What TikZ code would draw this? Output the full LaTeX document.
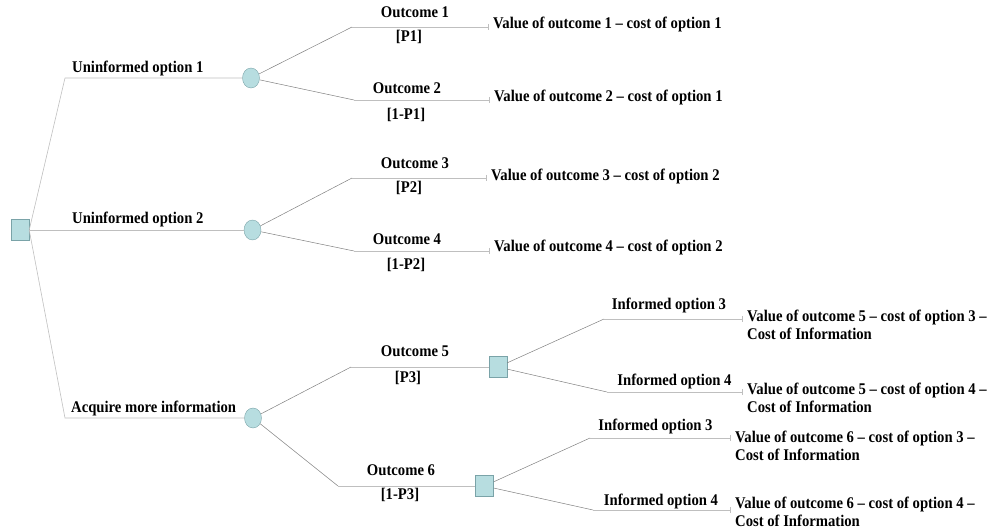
\documentclass[tikz,border=0pt]{standalone}
\usepackage{fontspec}
\setmainfont{Liberation Serif}[FakeStretch=0.9]
\usetikzlibrary{arrows.meta,shapes}
\definecolor{nodefill}{RGB}{183,221,224}
\definecolor{nodeline}{RGB}{122,163,168}
\tikzstyle{decision}=[rectangle,fill=nodefill,draw=nodeline,minimum width=18pt,minimum height=21pt,inner sep=0pt]
\tikzstyle{chance}=[ellipse,fill=nodefill,draw=nodeline,minimum width=17pt,minimum height=20pt,inner sep=0pt]
\tikzstyle{branch} = [draw,black!50,line width=0.5pt]
\tikzstyle{stem} = [draw,black!25,line width=0.6pt]
\tikzstyle{branchtext} = [font=\fontsize{16.3}{18}\selectfont\bfseries,anchor=base,inner sep=0pt]
\tikzstyle{valuetext} = [font=\fontsize{16.3}{18}\selectfont\bfseries,anchor=base west,align=left,inner xsep=4pt,inner ysep=0pt]

\begin{document}
\begin{tikzpicture}[x=1pt,y=-1pt]
    \useasboundingbox (0,0) rectangle (991,529);
    % First we draw the decision and chance nodes
    \node[decision] (R) at (20,230) {};
    \foreach \pos/\name in {{(251,78)/C1}, {(252.5,230)/C2}, {(253,418)/C3}}
        \node[chance] (\name) at \pos {};
    \foreach \pos/\name in {{(498,367)/S5}, {(484.5,486)/S6}}
        \node[decision] (\name) at \pos {};
    % Bend points of the branches
    \path (65,78) coordinate (k1) (65,418) coordinate (k3)
          (352,27) coordinate (b1) (354,100) coordinate (b2)
          (352,178) coordinate (b3) (354,251) coordinate (b4)
          (351,367) coordinate (b5) (338,486) coordinate (b6)
          (604,319) coordinate (d1) (607,392) coordinate (d2)
          (590,438) coordinate (d3) (593,510) coordinate (d4);
    % Pay-offs at the end of each branch (two-line ones sit on their last line)
    \node[valuetext] (v1) at (489,29) {Value of outcome 1 – cost of option 1};
    \node[valuetext] (v2) at (490,102) {Value of outcome 2 – cost of option 1};
    \node[valuetext] (v3) at (487,181) {Value of outcome 3 – cost of option 2};
    \node[valuetext] (v4) at (490,252) {Value of outcome 4 – cost of option 2};
    \node[valuetext] (v5) at (743,340) {Value of outcome 5 – cost of option 3 –\\Cost of Information};
    \node[valuetext] (v6) at (743,413) {Value of outcome 5 – cost of option 4 –\\Cost of Information};
    \node[valuetext] (v7) at (731,460) {Value of outcome 6 – cost of option 3 –\\Cost of Information};
    \node[valuetext] (v8) at (731,526) {Value of outcome 6 – cost of option 4 –\\Cost of Information};

    % Root to the three options
    \path[stem] (R.east) -- (k1) -- (C1);
    \path[stem] (R.east) -- (C2);
    \path[stem] (R.east) -- (k3) -- (C3);
    % Branches ending in a pay-off
    \foreach \source/\bend/\dest in {C1/b1/v1, C1/b2/v2, C2/b3/v3, C2/b4/v4,
                                     S5/d1/v5, S5/d2/v6, S6/d3/v7, S6/d4/v8}
    {
        \path[branch] (\source) -- (\bend);
        \path[stem,-{Bar[width=6pt]}] (\bend) -- (\bend -| \dest.west);
    }
    % Outcomes 5 and 6 lead to a second decision
    \foreach \bend/\dest in {b5/S5, b6/S6}
    {
        \path[branch] (C3) -- (\bend);
        \path[stem] (\bend) -- (\dest);
    }

    % Labels on the branches
    \node[branchtext,anchor=base west] (u1) at (72,73) {Uninformed option 1};
    \node[branchtext,anchor=base west] (u2) at (72,224) {Uninformed option 2};
    \node[branchtext,anchor=base west] (u3) at (71,413) {Acquire more information};
    \foreach \pos/\name/\txt in {{(415,18)/o1/Outcome 1}, {(409,42)/p1/[P1]},
                                 {(407,93.5)/o2/Outcome 2}, {(406,120)/p2/[1-P1]},
                                 {(415,168.5)/o3/Outcome 3}, {(409,193)/p3/[P2]},
                                 {(407,244.5)/o4/Outcome 4}, {(406,270)/p4/[1-P2]},
                                 {(415,357)/o5/Outcome 5}, {(408,383)/p5/[P3]},
                                 {(401,475)/o6/Outcome 6}, {(400,499)/p6/[1-P3]},
                                 {(669,310)/i1/Informed option 3}, {(674.5,385)/i2/Informed option 4},
                                 {(655.5,430)/i3/Informed option 3}, {(661,505)/i4/Informed option 4}}
        \node[branchtext] (\name) at \pos {\txt};
\end{tikzpicture}
\end{document}
